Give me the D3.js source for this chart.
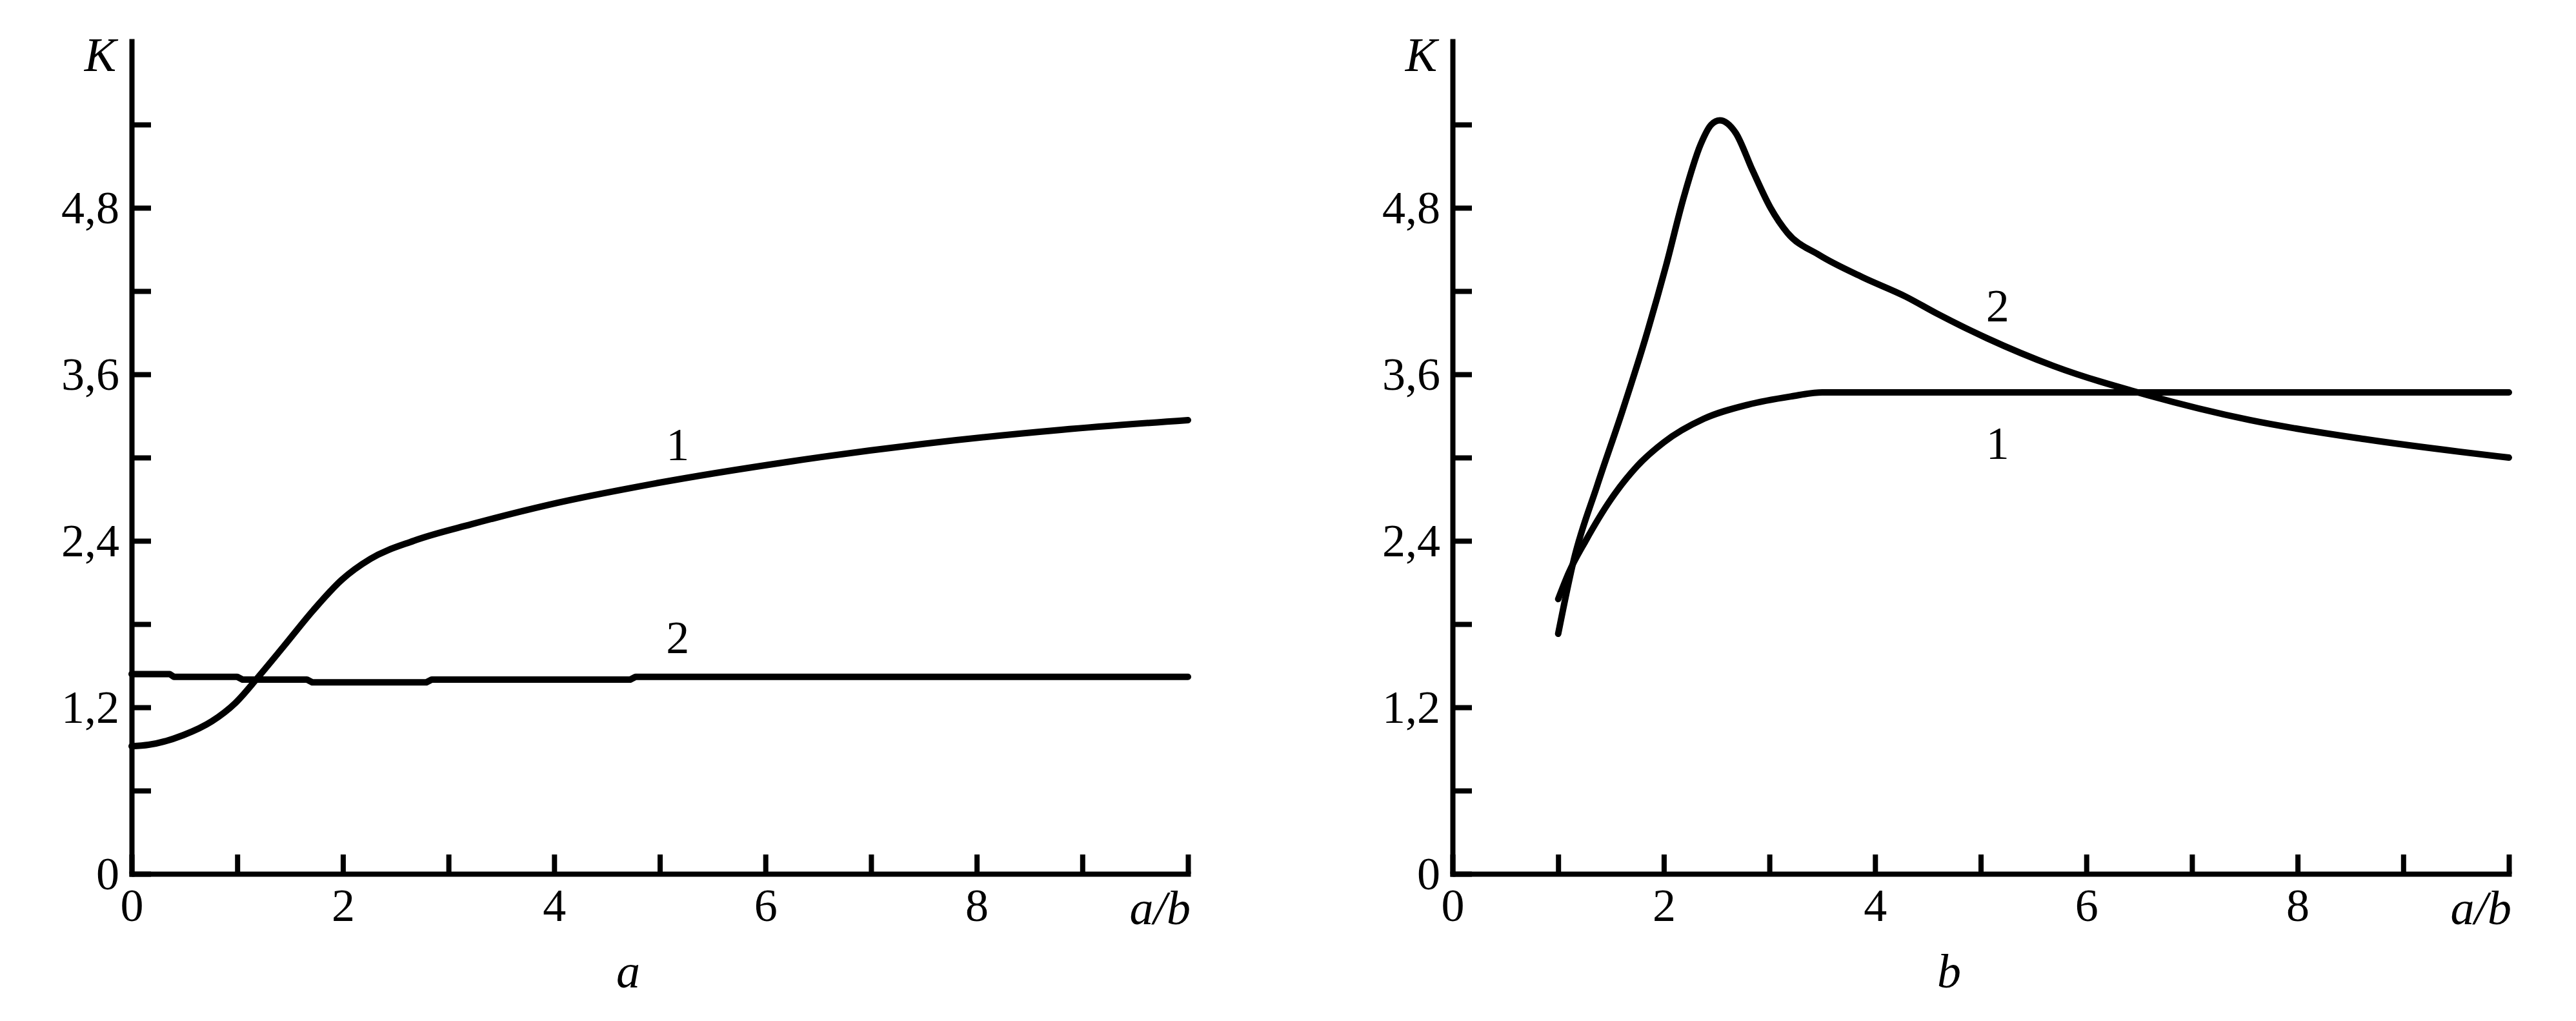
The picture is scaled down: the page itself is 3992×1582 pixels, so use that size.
<!DOCTYPE html>
<html>
<head>
<meta charset="utf-8">
<script src="https://cdn.jsdelivr.net/npm/d3@7"></script>
<style>
body { margin: 0; background: #fff; }
text { font-family: "Liberation Serif", "Times New Roman", serif; fill: #000; }
.axis path, .axis line { stroke: #000; }
.axis path { stroke-width: 8; stroke-linecap: square; }
.axis line { stroke-width: 8; }
.axis text { font-size: 72px; font-family: "Liberation Serif", "Times New Roman", serif; }
.curve { fill: none; stroke: #000; stroke-width: 10; stroke-linejoin: round; stroke-linecap: round; }
.ital { font-style: italic; font-size: 74px; }
.lbl { font-size: 72px; }
</style>
</head>
<body>
<div id="chart"></div>
<script>
// tick values / labels
const xTicks = [0, 1, 2, 3, 4, 5, 6, 7, 8, 9, 10]
const xTickLabels = ['0', '', '2', '', '4', '', '6', '', '8', '', '']
const yTicks = [0, 0.6, 1.2, 1.8, 2.4, 3.0, 3.6, 4.2, 4.8, 5.4]
const yTickLabels = ['0', '', '1,2', '', '2,4', '', '3,6', '', '4,8', '']

// panel a
const aX1 = [0, 0.16, 0.49, 0.76, 0.98, 1.2, 1.44, 1.72, 1.99, 2.26, 2.67, 3.22, 3.95, 4.93, 6.22, 7.51, 8.8, 10]
const aK1 = [0.92, 0.93, 1.0, 1.1, 1.23, 1.42, 1.64, 1.9, 2.12, 2.27, 2.4, 2.52, 2.66, 2.81, 2.97, 3.1, 3.2, 3.27]
const aX2 = [0, 0.36, 0.40, 1.0, 1.05, 1.66, 1.71, 2.79, 2.84, 4.72, 4.77, 10]
const aK2 = [1.44, 1.44, 1.42, 1.42, 1.40, 1.40, 1.38, 1.38, 1.40, 1.40, 1.42, 1.42]

// panel b
const bX1 = [1, 1.1, 1.26, 1.5, 1.75, 2.0, 2.38, 2.79, 3.2, 3.5, 10]
const bK1 = [1.98, 2.17, 2.40, 2.70, 2.94, 3.11, 3.28, 3.38, 3.44, 3.47, 3.47]
const bX2 = [1, 1.15, 1.37, 1.61, 1.83, 2.02, 2.19, 2.35, 2.45, 2.53, 2.68, 2.84, 3.01, 3.17, 3.47, 3.88, 4.29, 4.58, 5.06, 5.69, 6.58, 7.55, 8.66, 10]
const bK2 = [1.73, 2.27, 2.80, 3.34, 3.87, 4.38, 4.88, 5.26, 5.40, 5.43, 5.34, 5.07, 4.80, 4.62, 4.46, 4.30, 4.16, 4.04, 3.86, 3.66, 3.45, 3.27, 3.13, 3.00]

// curve number labels: [x, K, text]
const aLabels = [[5.17, 2.98, '1'], [5.17, 1.59, '2']]
const bLabels = [[5.16, 3.98, '2'], [5.16, 2.99, '1']]

const W = 3992, H = 1582

const svg = d3.select('#chart').append('svg')
	.attr('width', W).attr('height', H)

const y = d3.scaleLinear().domain([0, 6]).range([1354, 64])

const zip = (xs, ks) => xs.map((d, i) => [d, ks[i]])

function panel(x0, caption, curves, labels) {
	const x = d3.scaleLinear().domain([0, 10]).range([x0, x0 + 1637])
	const g = svg.append('g')

	g.append('g')
		.attr('class', 'axis')
		.attr('transform', `translate(0,${y(0)})`)
		.call(d3.axisBottom(x)
			.tickValues(xTicks)
			.tickFormat((d, i) => xTickLabels[i])
			.tickSizeInner(-30).tickSizeOuter(0).tickPadding(22))

	g.append('g')
		.attr('class', 'axis')
		.attr('transform', `translate(${x0},0)`)
		.call(d3.axisLeft(y)
			.tickValues(yTicks)
			.tickFormat((d, i) => yTickLabels[i])
			.tickSizeInner(-30).tickSizeOuter(0).tickPadding(19))

	g.selectAll('.axis').attr('font-family', null).attr('font-size', null)

	g.append('text').attr('class', 'ital')
		.attr('x', x0 - 24).attr('y', 110)
		.attr('text-anchor', 'end').text('K')

	g.append('text').attr('class', 'ital')
		.attr('x', x(10) + 4).attr('y', 1432)
		.attr('text-anchor', 'end').text('a/b')

	g.append('text').attr('class', 'ital')
		.attr('x', x(4.7)).attr('y', 1530)
		.attr('text-anchor', 'middle').text(caption)

	const line = d3.line()
		.x(d => x(d[0])).y(d => y(d[1]))

	curves.forEach(c => {
		g.append('path').attr('class', 'curve')
			.attr('d', line.curve(c.curve)(c.pts))
	})

	g.selectAll('.clbl').data(labels).enter().append('text')
		.attr('class', 'lbl')
		.attr('x', d => x(d[0])).attr('y', d => y(d[1]))
		.attr('text-anchor', 'middle')
		.text(d => d[2])
}

panel(204, 'a', [
	{pts: zip(aX1, aK1), curve: d3.curveMonotoneX},
	{pts: zip(aX2, aK2), curve: d3.curveLinear}
], aLabels)

panel(2251, 'b', [
	{pts: zip(bX1, bK1), curve: d3.curveMonotoneX},
	{pts: zip(bX2, bK2), curve: d3.curveMonotoneX}
], bLabels)
</script>
</body>
</html>
